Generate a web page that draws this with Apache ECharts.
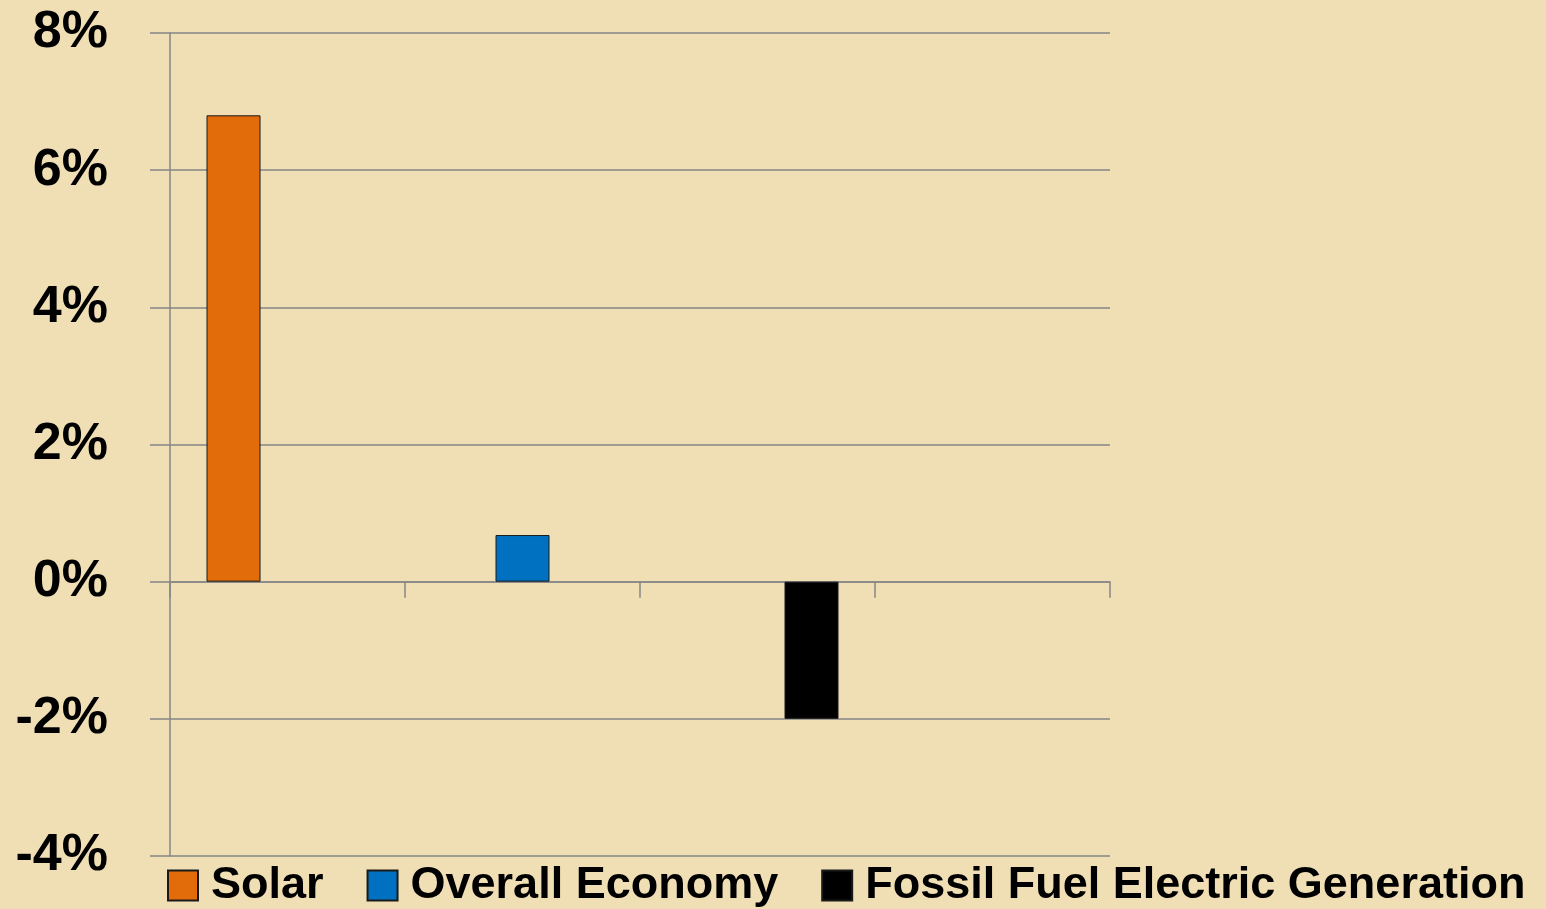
<!DOCTYPE html>
<html>
<head>
<meta charset="utf-8">
<title>Growth comparison</title>
<script src="https://cdn.jsdelivr.net/npm/echarts@6/dist/echarts.min.js"></script>
<style>
  html, body {
    margin: 0;
    padding: 0;
    background: #f0dfb4;
  }
  #chart {
    width: 1546px;
    height: 909px;
  }
</style>
</head>
<body>
<div id="chart"></div>
<script>
// categories (4 empty slots, the last one stays empty)
var categories = ["", "", "", ""];
var seriesNames = ["Solar", "Overall Economy", "Fossil Fuel Electric Generation"];
// values in percent
var solar = [6.8, "-", "-", "-"];
var overall = ["-", 0.68, "-", "-"];
var fossil = ["-", "-", -2.0, "-"];
var colors = ["#e36c0a", "#0070c0", "#000000"];

var chart = echarts.init(document.getElementById("chart"));

var font = "Liberation Sans";

function bar(name, data, color) {
  return {
    name: name,
    type: "bar",
    data: data,
    barWidth: 54,
    barGap: "0%",
    itemStyle: {
      color: color,
      borderColor: "#1a1a1a",
      borderWidth: 1
    }
  };
}

chart.setOption({
  backgroundColor: "transparent",
  animation: false,
  grid: {
    left: 170,
    right: 436,
    top: 33,
    bottom: 53
  },
  legend: {
    left: 162,
    top: 858,
    itemWidth: 30,
    itemHeight: 30,
    itemGap: 43,
    icon: "rect",
    textStyle: {
      fontFamily: font,
      fontWeight: "bold",
      fontSize: 45,
      color: "#000",
      padding: [0, 0, 0, 8]
    },
    data: seriesNames
  },
  xAxis: {
    type: "category",
    data: categories,
    axisLine: {
      onZero: true,
      lineStyle: { color: "#868686", width: 1.5 }
    },
    axisTick: {
      show: true,
      interval: 0,
      length: 16,
      lineStyle: { color: "#868686", width: 1.5 }
    },
    axisLabel: { show: false }
  },
  yAxis: {
    type: "value",
    min: -4,
    max: 8,
    interval: 2,
    axisLine: {
      show: true,
      lineStyle: { color: "#868686", width: 1.5 }
    },
    axisTick: {
      show: true,
      length: 20,
      lineStyle: { color: "#868686", width: 1.5 }
    },
    splitLine: {
      lineStyle: { color: "#868686", width: 1.5 }
    },
    axisLabel: {
      formatter: "{value}%",
      margin: 62,
      fontFamily: font,
      fontWeight: "bold",
      fontSize: 52,
      color: "#000"
    }
  },
  series: [
    bar(seriesNames[0], solar, colors[0]),
    bar(seriesNames[1], overall, colors[1]),
    bar(seriesNames[2], fossil, colors[2])
  ]
});
</script>
</body>
</html>
